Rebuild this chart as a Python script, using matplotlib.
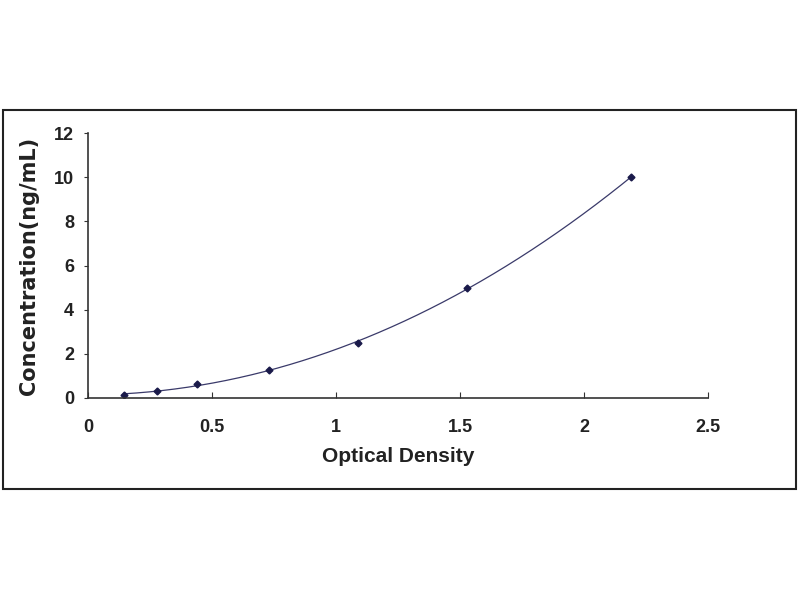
import numpy as np
import matplotlib
matplotlib.use("Agg")
import matplotlib.pyplot as plt
from matplotlib.patches import Rectangle

# Data
od = [0.145, 0.277, 0.44, 0.73, 1.09, 1.53, 2.19]
conc = [0.156, 0.312, 0.625, 1.25, 2.5, 5.0, 10.0]
x_ticks = [0, 0.5, 1, 1.5, 2, 2.5]
x_tick_labels = ["0", "0.5", "1", "1.5", "2", "2.5"]
y_ticks = [0, 2, 4, 6, 8, 10, 12]
y_tick_labels = ["0", "2", "4", "6", "8", "10", "12"]

plt.rcParams['font.family'] = ['Liberation Sans', 'DejaVu Sans']

fig = plt.figure(figsize=(8, 6), dpi=100)
fig.patch.set_facecolor('white')

# outer border
fig.patches.append(Rectangle((3/800, 1-489/600), 793/800, 379/600,
                             transform=fig.transFigure, fill=False,
                             edgecolor='#222222', linewidth=1.5))

ax = fig.add_axes([88/800, 1-398/600, 620/800, 265/600])

# fitted curve (polynomial fit through the standard points)
coef = np.polyfit(od, conc, 3)
xs = np.linspace(min(od), max(od), 200)
ax.plot(xs, np.polyval(coef, xs), color='#3a3a6a', linewidth=0.9)
ax.plot(od, conc, linestyle='none', marker='D', markersize=3.5,
        color='#1a1a4a')

ax.set_xlim(0, 2.5)
ax.set_ylim(0, 12)
ax.set_xticks(x_ticks)
ax.set_xticklabels(x_tick_labels)
ax.set_yticks(y_ticks)
ax.set_yticklabels(y_tick_labels)
for lab in ax.get_xticklabels() + ax.get_yticklabels():
    lab.set_fontweight('bold')
    lab.set_fontsize(13)
    lab.set_color('#222222')
ax.tick_params(axis='x', direction='in', length=4, pad=15, color='#333333')
ax.tick_params(axis='y', direction='out', length=3, pad=7, color='#333333')
ax.spines['top'].set_visible(False)
ax.spines['right'].set_visible(False)
for s in ['left', 'bottom']:
    ax.spines[s].set_color('#333333')
    ax.spines[s].set_linewidth(1.2)

ax.set_xlabel('Optical Density', fontsize=15, fontweight='bold',
              color='#222222', labelpad=8)
ax.set_ylabel('Concentration(ng/mL)', fontsize=15, fontweight='bold',
              color='#222222', labelpad=11, family=['DejaVu Sans'])

fig.savefig('out.png', dpi=100)
